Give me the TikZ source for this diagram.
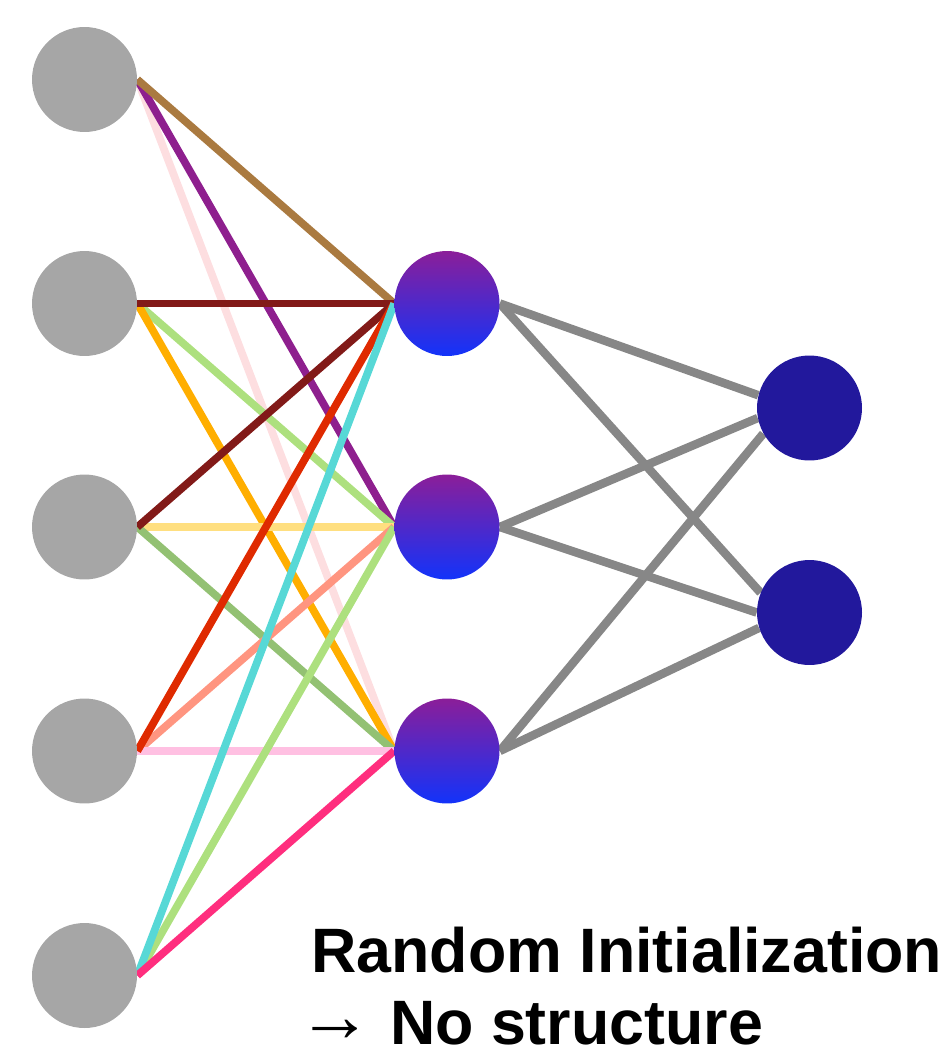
\documentclass[tikz,border=0pt]{standalone}
\usepackage{fontspec}
\setmainfont{Liberation Sans}
\usetikzlibrary{backgrounds}

\definecolor{nodegray}{HTML}{A6A6A6}
\definecolor{hidtop}{HTML}{8B1E99}
\definecolor{hidbot}{HTML}{1233FA}
\definecolor{outblue}{HTML}{22189C}
\definecolor{edgegray}{HTML}{878787}
\definecolor{cBrown}{HTML}{AA7A40}
\definecolor{cPurple}{HTML}{8E1F8E}
\definecolor{cBlush}{HTML}{FDDEE0}
\definecolor{cMaroon}{HTML}{821A18}
\definecolor{cLime}{HTML}{ADE07E}
\definecolor{cOrange}{HTML}{FFAE00}
\definecolor{cSand}{HTML}{FFDF80}
\definecolor{cSage}{HTML}{93C173}
\definecolor{cRed}{HTML}{DF2A00}
\definecolor{cSalmon}{HTML}{FF9580}
\definecolor{cPink}{HTML}{FFC0E2}
\definecolor{cCyan}{HTML}{57D8D6}
\definecolor{cRose}{HTML}{FF2E7E}

\begin{document}
\begin{tikzpicture}[x=0.02cm,y=-0.02cm,
  neuron/.style={circle,minimum size=2.1cm,inner sep=0pt},
  innode/.style={neuron,fill=nodegray},
  hidnode/.style={neuron,top color=hidtop,bottom color=hidbot},
  outnode/.style={neuron,fill=outblue},
  wire/.style={line width=0.154cm},
  grayedge/.style={line width=0.17cm,color=edgegray},
  caption/.style={font=\bfseries\fontsize{35.7}{42.5}\selectfont,inner sep=0pt,anchor=base west}]
\useasboundingbox (0,0) rectangle (947,1051);
% Input layer (gray)
\foreach \i/\y in {1/79.5,2/303.5,3/527,4/751,5/975.5}
  \node[innode] (in\i) at (84.5,\y) {};
% Hidden layer (purple to blue)
\foreach \i/\y in {1/303.5,2/527,3/751}
  \node[hidnode] (hid\i) at (447,\y) {};
% Output layer
\node[outnode] (out1) at (809.5,408) {};
\node[outnode] (out2) at (809.5,612.5) {};
\begin{pgfonlayer}{background}
% input -> hidden, one colour per wire
\foreach \a/\b/\c in {1/3/cBlush,1/2/cPurple,1/1/cBrown,2/2/cLime,2/3/cOrange,
    3/2/cSand,3/3/cSage,4/2/cSalmon,4/3/cPink,5/2/cLime,
    2/1/cMaroon,3/1/cMaroon,4/1/cRed,5/1/cCyan,5/3/cRose}
  \draw[wire,color=\c] (in\a.east) -- (hid\b.west);
% hidden -> output
\foreach \h/\o/\ang in {1/1/166,1/2/158,2/1/191,2/2/180,3/1/209,3/2/197}
  \draw[grayedge] (hid\h.east) -- (out\o.\ang);
\end{pgfonlayer}
% Caption
\node[caption] (title) at (311,972) {Random Initialization};
\node[caption] (note) at (297,1044) {\raisebox{1.5pt}{\scalebox{1.2}{→}} No structure};
\end{tikzpicture}
\end{document}
